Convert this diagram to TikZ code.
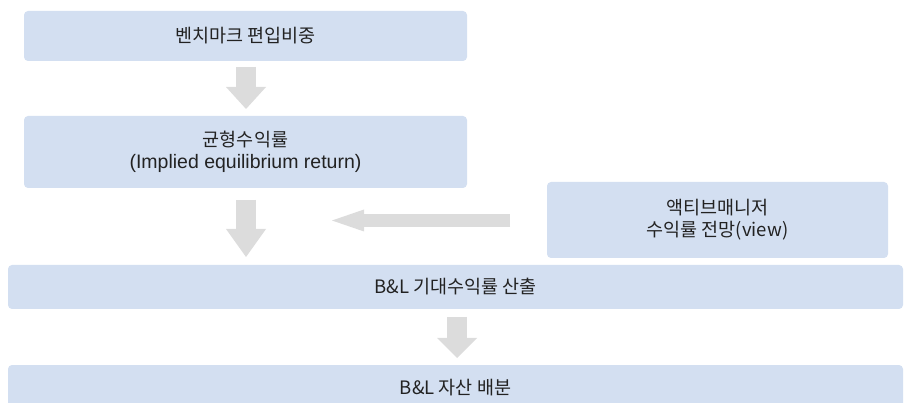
\documentclass[tikz,border=0pt]{standalone}
\usepackage{fontspec}
\newfontfamily\kr{Noto Sans CJK KR}
\newfontfamily\lat{Liberation Sans}
\usetikzlibrary{arrows.meta}
\definecolor{boxblue}{HTML}{D3DFF1}
\definecolor{arrgray}{HTML}{DCDCDC}
\definecolor{txtcol}{HTML}{222222}
\begin{document}
\begin{tikzpicture}[x=1pt,y=-1pt,
  box/.style={fill=boxblue, rounded corners=4pt, inner sep=0pt, text=txtcol, align=center,
    font={\kr\fontsize{18.5}{22}\selectfont}},
  vblock/.style={draw=arrgray, line width=20pt, -{Triangle[length=#1,width=40pt,line width=0pt]}},
  hblock/.style={draw=arrgray, line width=13pt, -{Triangle[length=32pt,width=22pt,line width=0pt]}}]
\useasboundingbox (0,0) rectangle (905,403);
\clip (0,0) rectangle (905,403);

\node[box, minimum width=443pt, minimum height=50pt] (b1) at (245.5,36) {벤치마크 편입비중};
\node[box, minimum width=443pt, minimum height=72pt] (b2) at (245.5,152) {균형수익률\\{\lat\fontsize{19.5}{22}\selectfont (Implied equilibrium return)}};
\node[box, minimum width=341pt, minimum height=76pt] (b4) at (717.5,220) {액티브매니저\\수익률 전망(view)};
\node[box, minimum width=895pt, minimum height=44pt] (b3) at (455.5,287) {B\&L 기대수익률 산출};
\node[box, minimum width=895pt, minimum height=45pt] (b5) at (455.5,387.5) {B\&L 자산 배분};

\coordinate (a1s) at (246,67);
\coordinate (a1e) at (246,109);
\coordinate (a2s) at (246,200);
\coordinate (a2e) at (246,257);
\coordinate (a3s) at (510,220.5);
\coordinate (a3e) at (332,220.5);
\coordinate (a4s) at (457,317);
\coordinate (a4e) at (457,358);

\draw[vblock=22pt] (a1s) -- (a1e);
\draw[vblock=28pt] (a2s) -- (a2e);
\draw[hblock] (a3s) -- (a3e);
\draw[vblock=20pt] (a4s) -- (a4e);
\end{tikzpicture}
\end{document}
